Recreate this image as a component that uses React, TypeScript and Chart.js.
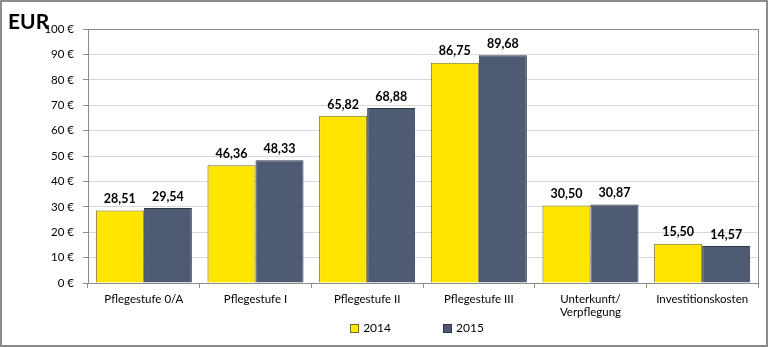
import React, { useEffect, useRef } from "react";
import { Chart, registerables } from "chart.js";

Chart.register(...registerables);

const categories: (string | string[])[] = [
  "Pflegestufe 0/A",
  "Pflegestufe I",
  "Pflegestufe II",
  "Pflegestufe III",
  ["Unterkunft/", "Verpflegung"],
  "Investitionskosten",
];
const values2014 = [28.51, 46.36, 65.82, 86.75, 30.5, 15.5];
const values2015 = [29.54, 48.33, 68.88, 89.68, 30.87, 14.57];
const seriesNames = ["2014", "2015"];
const unitTitle = "EUR";

const FONT = "Lato, 'Open Sans', sans-serif";

const decoPlugin = {
  id: "deco",
  beforeDraw(chart: any) {
    const { ctx, width, height } = chart;
    ctx.save();
    ctx.fillStyle = "#ffffff";
    ctx.fillRect(0, 0, width, height);
    ctx.restore();
  },
  afterDatasetsDraw(chart: any) {
    const { ctx, chartArea } = chart;
    ctx.save();
    // plot area border
    ctx.strokeStyle = "#8c8c8c";
    ctx.lineWidth = 1;
    ctx.strokeRect(
      Math.round(chartArea.left) + 0.5,
      Math.round(chartArea.top) + 0.5,
      Math.round(chartArea.right - chartArea.left),
      Math.round(chartArea.bottom - chartArea.top)
    );
    // data labels
    ctx.fillStyle = "#000000";
    ctx.font = `bold 12.5px ${FONT}`;
    ctx.textAlign = "center";
    ctx.textBaseline = "bottom";
    chart.data.datasets.forEach((ds: any, i: number) => {
      const meta = chart.getDatasetMeta(i);
      meta.data.forEach((bar: any, j: number) => {
        const v = ds.data[j] as number;
        ctx.fillText(v.toFixed(2).replace(".", ","), bar.x, bar.y - 5);
      });
    });
    ctx.restore();
  },
  afterDraw(chart: any) {
    const { ctx, width, height, chartArea } = chart;
    ctx.save();
    // unit title
    ctx.fillStyle = "#000";
    ctx.font = `bold 21px ${FONT}`;
    ctx.textAlign = "left";
    ctx.textBaseline = "alphabetic";
    ctx.fillText(unitTitle, 8, 29);
    // legend
    ctx.font = `12px ${FONT}`;
    ctx.textBaseline = "middle";
    const box = 9;
    const gapText = 4;
    const gapItems = 52;
    const ds = chart.data.datasets;
    const widths = ds.map((d: any) => box + gapText + ctx.measureText(d.label).width);
    const total = widths.reduce((a: number, b: number) => a + b, 0) + gapItems * (ds.length - 1);
    let x = (chartArea.left + chartArea.right) / 2 - 6 - total / 2;
    const y = 328;
    ds.forEach((d: any, i: number) => {
      ctx.fillStyle = d.backgroundColor;
      ctx.fillRect(Math.round(x), Math.round(y - box / 2), box, box);
      ctx.strokeStyle = d.borderColor;
      ctx.lineWidth = 1;
      ctx.strokeRect(Math.round(x) + 0.5, Math.round(y - box / 2) + 0.5, box - 1, box - 1);
      ctx.fillStyle = "#000";
      ctx.fillText(d.label, x + box + gapText, y);
      x += widths[i] + gapItems;
    });
    // outer border
    ctx.strokeStyle = "#8c8c8c";
    ctx.lineWidth = 2;
    ctx.strokeRect(1, 1, width - 2, height - 2);
    ctx.restore();
  },
};

export default function App() {
  const ref = useRef<HTMLCanvasElement | null>(null);
  useEffect(() => {
    document.body.style.margin = "0";
    const chart = new Chart(ref.current as HTMLCanvasElement, {
      type: "bar",
      data: {
        labels: categories,
        datasets: [
          {
            label: seriesNames[0],
            data: values2014,
            backgroundColor: "#FFE500",
            borderColor: "#6b6b2a",
            borderWidth: 1,
            barPercentage: 1,
            categoryPercentage: 0.86,
          },
          {
            label: seriesNames[1],
            data: values2015,
            backgroundColor: "#4F5B73",
            borderColor: "#2e3545",
            borderWidth: 1,
            barPercentage: 1,
            categoryPercentage: 0.86,
          },
        ],
      },
      options: {
        responsive: false,
        animation: false,
        layout: { padding: { left: 0, top: 29, right: 10, bottom: 24 } },
        plugins: {
          legend: { display: false },
          tooltip: { enabled: false },
        },
        scales: {
          x: {
            grid: {
              display: true,
              drawOnChartArea: false,
              drawTicks: true,
              tickLength: 5,
              offset: true,
              tickColor: "#8c8c8c",
            },
            border: { display: true, color: "#8c8c8c" },
            ticks: {
              font: { family: FONT, size: 11.5 },
              color: "#000",
              padding: 4,
              maxRotation: 0,
              autoSkip: false,
            },
            afterFit: (scale: any) => {
              scale.height = 40;
            },
          },
          y: {
            min: 0,
            max: 100,
            ticks: {
              stepSize: 10,
              font: { family: FONT, size: 11.5 },
              color: "#000",
              padding: 9,
              callback: (v: any) => `${v} €`,
            },
            grid: {
              color: "#d9d9d9",
              tickColor: "#8c8c8c",
              tickLength: 5,
            },
            border: { display: true, color: "#8c8c8c" },
            afterFit: (scale: any) => {
              scale.width = 88;
            },
          },
        },
      },
      plugins: [decoPlugin],
    });
    return () => chart.destroy();
  }, []);
  return (
    <div style={{ width: 768, height: 347 }}>
      <canvas ref={ref} width={768} height={347} style={{ display: "block" }} />
    </div>
  );
}
